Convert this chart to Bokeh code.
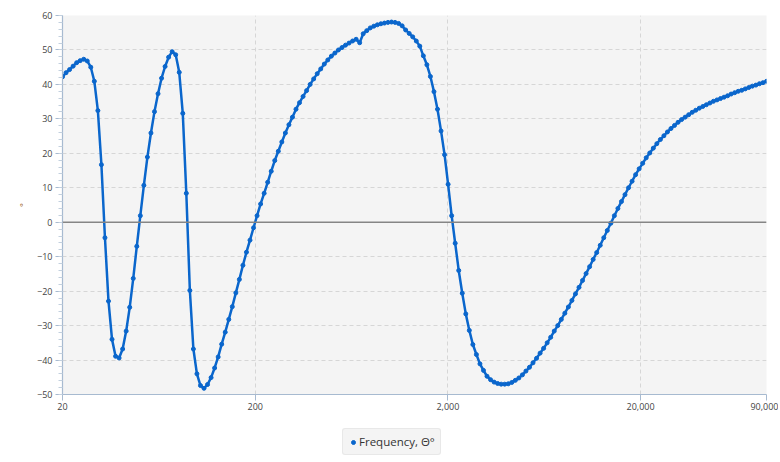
import numpy as np
from bokeh.plotting import figure
from bokeh.layouts import column
from bokeh.models import (Range1d, FixedTicker, SingleIntervalTicker, Span,
                          Legend, LegendItem, ColumnDataSource)
from bokeh.embed import file_html
from bokeh.resources import INLINE

# ---- data -------------------------------------------------------------
F_START = 20
F_STOP = 90000
N_POINTS = 200
frequency = np.geomspace(F_START, F_STOP, N_POINTS)  # log-spaced measurement grid

phase_deg = [
    42.2, 43.4, 44.3, 45.3, 46.3, 46.9, 47.3, 46.8, 45.0, 40.9,
    32.4, 16.7, -4.5, -22.9, -34.0, -38.9, -39.4, -36.8, -31.6, -24.7,
    -16.3, -7.0, 1.9, 10.7, 18.9, 25.9, 32.1, 37.3, 41.8, 45.2,
    47.9, 49.5, 48.6, 43.5, 31.6, 8.4, -19.8, -36.8, -44.0, -47.4,
    -48.2, -47.1, -45.1, -42.3, -39.1, -35.4, -31.9, -28.2, -24.5, -20.5,
    -16.6, -12.5, -8.7, -5.2, -1.6, 1.9, 5.3, 8.4, 11.6, 14.8,
    17.9, 20.6, 23.3, 25.9, 28.3, 30.5, 32.8, 34.7, 36.5, 38.2,
    40.0, 41.6, 43.1, 44.5, 45.9, 47.1, 48.2, 49.1, 50.0, 50.7,
    51.4, 52.0, 52.6, 53.1, 52.1, 54.7, 55.6, 56.4, 56.9, 57.3,
    57.6, 57.8, 58.0, 58.1, 58.0, 57.7, 57.0, 55.8, 54.8, 53.8,
    52.6, 51.1, 48.3, 45.7, 42.3, 37.9, 32.8, 26.5, 19.6, 11.0,
    1.9, -6.1, -14.0, -20.6, -26.6, -31.4, -35.5, -38.4, -41.1, -43.0,
    -44.7, -45.7, -46.4, -46.8, -47.0, -47.0, -46.9, -46.5, -45.9, -45.2,
    -44.3, -43.2, -42.1, -40.8, -39.5, -38.0, -36.6, -35.0, -33.4, -31.6,
    -30.0, -28.2, -26.4, -24.6, -22.7, -20.8, -18.9, -16.9, -14.9, -12.9,
    -10.8, -8.8, -6.7, -4.5, -2.4, -0.3, 1.9, 4.0, 6.0, 8.0,
    10.0, 11.9, 13.8, 15.5, 17.1, 18.7, 20.1, 21.5, 22.8, 24.0,
    25.1, 26.2, 27.2, 28.1, 29.0, 29.8, 30.5, 31.2, 31.9, 32.5,
    33.1, 33.6, 34.1, 34.6, 35.1, 35.5, 35.9, 36.3, 36.7, 37.2,
    37.6, 38.0, 38.3, 38.7, 39.1, 39.5, 39.8, 40.2, 40.5, 40.9,
]

x_ticks = [20, 200, 2000, 20000, 90000]
x_tick_labels = ["20", "200", "2,000", "20,000", "90,000"]
y_min, y_max = -50, 60
series_name = "Frequency, Θ°"
y_axis_title = "°"

# ---- style ------------------------------------------------------------
FONT = "Open Sans"
LINE_COLOR = "#0a66cc"
AXIS_COLOR = "#a7bad0"
GRID_COLOR = "#d6d6d6"

source = ColumnDataSource(data=dict(f=frequency, phase=phase_deg))

p = figure(width=778, height=420, x_axis_type="log",
           x_range=Range1d(F_START, F_STOP), y_range=Range1d(y_min, y_max),
           output_backend="svg", toolbar_location=None,
           min_border_left=62, min_border_right=12,
           min_border_top=15, min_border_bottom=26)

p.background_fill_color = "#f4f4f4"
p.border_fill_color = "white"
p.outline_line_color = None

for g in (p.xgrid, p.ygrid):
    g.grid_line_color = GRID_COLOR
    g.grid_line_dash = "4 3"
    g.grid_line_width = 1

p.add_layout(Span(location=0, dimension="width", line_color="#858585",
                  line_width=1.5))

line_r = p.line("f", "phase", source=source, line_color=LINE_COLOR,
                line_width=2.5)
dot_r = p.scatter("f", "phase", source=source, marker="circle", size=4,
                  fill_color=LINE_COLOR, line_color=LINE_COLOR)

xa = p.xaxis[0]
xa.ticker = FixedTicker(ticks=x_ticks, minor_ticks=[])
xa.major_label_overrides = {t: lab for t, lab in zip(x_ticks, x_tick_labels)}
ya = p.yaxis[0]
ya.ticker = SingleIntervalTicker(interval=10, num_minor_ticks=5)
ya.axis_label = y_axis_title
ya.axis_label_text_font_size = "9px"
ya.axis_label_text_color = "#9a5a1e"
ya.axis_label_text_font_style = "normal"
ya.axis_label_standoff = 4

for ax in (xa, ya):
    ax.axis_line_color = AXIS_COLOR
    ax.axis_line_width = 1.2
    ax.major_tick_line_color = AXIS_COLOR
    ax.minor_tick_line_color = "#c3d0de"
    ax.major_tick_in = 0
    ax.minor_tick_in = 0
    ax.major_tick_out = 7
    ax.minor_tick_out = 4
    ax.major_label_text_font = FONT
    ax.major_label_text_font_size = "9px"
    ax.major_label_text_color = "#444444"
    ax.axis_label_text_font = FONT
ya.major_label_standoff = 3
xa.major_label_standoff = 2
xa.major_tick_out = 6

# ---- legend strip below the chart --------------------------------------
# The strip's ranges (0..1) lie outside the data, so its renderer draws
# nothing itself and only supplies the legend swatch.
leg = figure(width=778, height=40, x_range=Range1d(0, 1), y_range=Range1d(0, 1),
             x_axis_location=None, y_axis_location=None,
             output_backend="svg", toolbar_location=None,
             min_border_left=0, min_border_right=0,
             min_border_top=0, min_border_bottom=0)
leg.grid.visible = False
leg.outline_line_color = None
leg.background_fill_color = "white"
leg.border_fill_color = "white"
leg_dot = leg.scatter("f", "phase", source=source, marker="circle", size=4,
                      fill_color=LINE_COLOR, line_color=LINE_COLOR)

legend = Legend(items=[LegendItem(label=series_name, renderers=[leg_dot])],
                location=(280, 5), orientation="horizontal",
                background_fill_color="#f4f4f4", background_fill_alpha=1,
                border_line_color="#dcdcdc", border_radius=3,
                label_text_font=FONT, label_text_font_size="11.5px",
                label_text_color="#333333",
                glyph_width=10, glyph_height=14, label_height=14,
                label_standoff=1, padding=5, margin=0, spacing=0)
leg.add_layout(legend, "center")

open("out.html", "w").write(file_html(column(p, leg, spacing=0), INLINE))
